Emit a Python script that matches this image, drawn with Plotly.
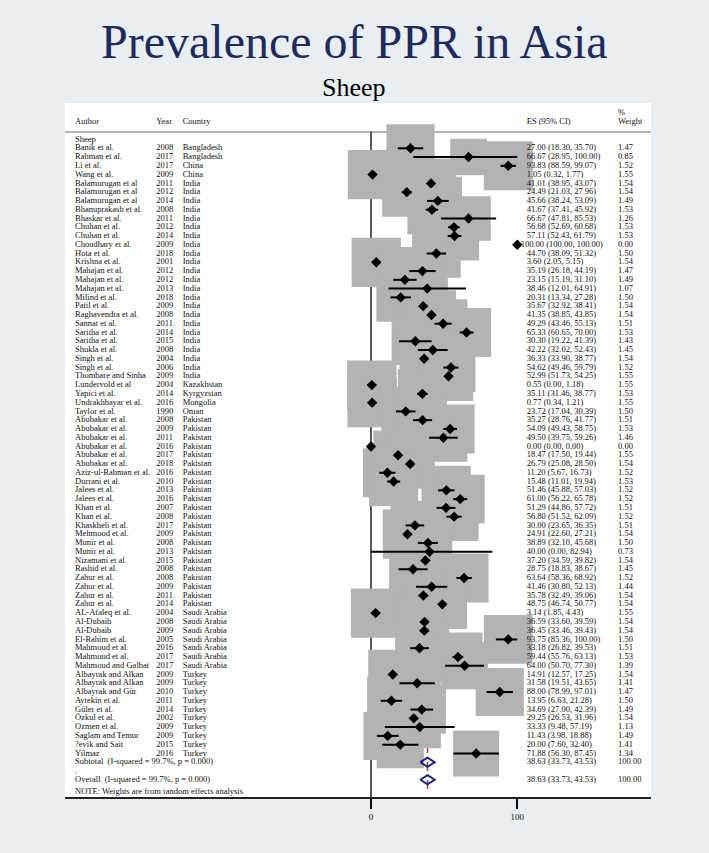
import numpy as np
import plotly.graph_objects as go

# ---------------- data ----------------
authors = ["Banik et al.", "Rahman et al.", "Li et al.", "Wang et al.", "Balamurugan et al",
           "Balamurugan et al", "Balamurugan et al", "Bhanuprakash et al.", "Bhaskar et al.",
           "Chuhan et al.", "Chuhan et al.", "Choudhary et al.", "Hota et al.", "Krishna et al.",
           "Mahajan et al.", "Mahajan et al.", "Mahajan et al.", "Milind et al.", "Patil et al.",
           "Raghavendra et al.", "Sannat et al.", "Saritha et al.", "Saritha et al.", "Shukla et al.",
           "Singh et al.", "Singh et al.", "Thombare and Sinha", "Lundervold et al", "Yapici et al.",
           "Undrakhbayar et al.", "Taylor et al.", "Abubakar et al.", "Abubakar et al.",
           "Abubakar et al.", "Abubakar et al.", "Abubakar et al.", "Abubakar et al.",
           "Aziz-ul-Rahman et al.", "Durrani et al.", "Jalees et al.", "Jalees et al.",
           "Khan et al.", "Khan et al.", "Khaskheli et al.", "Mehmood et al.", "Munir et al.",
           "Munir et al.", "Nizamani et al.", "Rashid et al.", "Zahur et al.", "Zahur et al.",
           "Zahur et al.", "Zahur et al.", "AL-Afaleq et al.", "Al-Dubaib", "Al-Dubaib",
           "El-Rahim et al.", "Mahmoud et al.", "Mahmoud et al.", "Mahmoud and Galbat",
           "Albayrak and Alkan", "Albayrak and Alkan", "Albayrak and Gür", "Aytekin et al.",
           "Güler et al.", "Özkul et al.", "Ozmen et al.", "Saglam and Temur", "?evik and Sait",
           "Yilmaz"]
years = [2008, 2017, 2017, 2009, 2011, 2012, 2014, 2008, 2011, 2012, 2014, 2009, 2018, 2001,
         2012, 2012, 2013, 2018, 2009, 2008, 2011, 2014, 2015, 2008, 2004, 2006, 2009, 2004,
         2014, 2016, 1990, 2008, 2009, 2011, 2016, 2017, 2018, 2016, 2010, 2013, 2016, 2007,
         2008, 2017, 2009, 2008, 2013, 2015, 2008, 2008, 2009, 2011, 2014, 2004, 2008, 2009,
         2005, 2016, 2017, 2017, 2009, 2009, 2010, 2011, 2014, 2002, 2009, 2009, 2015, 2016]
countries = (["Bangladesh"] * 2 + ["China"] * 2 + ["India"] * 23 + ["Kazakhstan", "Kyrgyzstan",
             "Mongolia", "Oman"] + ["Pakistan"] * 22 + ["Saudi Arabia"] * 7 + ["Turkey"] * 10)
es = [27.00, 66.67, 93.83, 1.05, 41.01, 24.49, 45.66, 41.67, 66.67, 56.68, 57.11, 100.00, 44.70,
      3.60, 35.19, 23.15, 38.46, 20.31, 35.67, 41.35, 49.29, 65.33, 30.30, 42.22, 36.33, 54.62,
      52.99, 0.55, 35.11, 0.77, 23.72, 35.27, 54.09, 49.50, 0.00, 18.47, 26.79, 11.20, 15.48,
      51.46, 61.00, 51.29, 56.80, 30.00, 24.91, 38.89, 40.00, 37.20, 28.75, 63.64, 41.46, 35.78,
      48.75, 3.14, 36.59, 36.45, 93.75, 33.18, 59.44, 64.00, 14.91, 31.58, 88.00, 13.95, 34.69,
      29.25, 33.33, 11.43, 20.00, 71.88]
ci_lo = [18.30, 28.95, 88.59, 0.32, 38.95, 21.03, 38.24, 37.41, 47.81, 52.69, 52.43, 100.00, 38.09,
         2.05, 26.18, 15.19, 12.01, 13.34, 32.92, 38.85, 43.46, 60.65, 19.22, 32.02, 33.90, 49.46,
         51.73, 0.00, 31.46, 0.34, 17.04, 28.76, 49.43, 39.75, 0.00, 17.50, 25.08, 5.67, 11.01,
         45.88, 56.22, 44.86, 51.52, 23.65, 22.60, 32.10, 0.00, 34.59, 18.83, 58.36, 30.80, 32.49,
         46.74, 1.85, 33.60, 33.46, 85.36, 26.82, 55.76, 50.70, 12.57, 19.51, 78.99, 6.63, 27.00,
         26.53, 9.48, 3.98, 7.60, 56.30]
ci_hi = [35.70, 100.00, 99.07, 1.77, 43.07, 27.96, 53.09, 45.92, 85.53, 60.68, 61.79, 100.00, 51.32,
         5.15, 44.19, 31.10, 64.91, 27.28, 38.41, 43.85, 55.13, 70.00, 41.39, 52.43, 38.77, 59.79,
         54.25, 1.18, 38.77, 1.21, 30.39, 41.77, 58.75, 59.26, 0.00, 19.44, 28.50, 16.73, 19.94,
         57.03, 65.78, 57.72, 62.09, 36.35, 27.21, 45.68, 82.94, 39.82, 38.67, 68.92, 52.13, 39.06,
         50.77, 4.43, 39.59, 39.43, 100.00, 39.53, 63.13, 77.30, 17.25, 43.65, 97.01, 21.28, 42.39,
         31.96, 57.19, 18.88, 32.40, 87.45]
weights = [1.47, 0.85, 1.52, 1.55, 1.54, 1.54, 1.49, 1.53, 1.26, 1.53, 1.53, 0.00, 1.50, 1.54,
           1.47, 1.49, 1.07, 1.50, 1.54, 1.54, 1.51, 1.53, 1.43, 1.45, 1.54, 1.52, 1.55, 1.55,
           1.53, 1.55, 1.50, 1.51, 1.53, 1.46, 0.00, 1.55, 1.54, 1.52, 1.53, 1.52, 1.52, 1.51,
           1.52, 1.51, 1.54, 1.50, 0.73, 1.54, 1.45, 1.52, 1.44, 1.54, 1.54, 1.55, 1.54, 1.54,
           1.50, 1.51, 1.53, 1.39, 1.54, 1.41, 1.47, 1.50, 1.49, 1.54, 1.13, 1.49, 1.41, 1.34]
pooled = [38.63, 33.73, 43.53]
pooled_weight = 100.00
het_text = "(I-squared = 99.7%, p = 0.000)"
x_ticks = [0, 100]

# ---------------- geometry ----------------
W, H = 709, 853
L, R, T, B = 65, 651, 103, 797          # white panel / plot area in px
ZERO_PX, HUND_PX = 371.0, 517.3
PPU = (HUND_PX - ZERO_PX) / 100.0       # px per unit
ROW0_PX, ROW_PX = 148.3, 8.77
BG = "#e8eef2"


def px2x(px):
    return (px - ZERO_PX) / PPU


def py2y(py):
    return (py - ROW0_PX) / ROW_PX


n = len(authors)
rows = list(range(n))
sub_row, dot_row, ov_row = n, n + 1, n + 2
note_row = py2y(791.5)

SERIF = "Liberation Serif"
FS = 8.5
TXT_SHIFT = -1.0   # compensate text offset of 'middle right'

fig = go.Figure()

shapes = []
# header rule
shapes.append(dict(type="line", xref="paper", yref="y", x0=0, x1=1, y0=py2y(132), y1=py2y(132),
                   line=dict(color="#9a9a9a", width=1.5), layer="below"))
# null line
shapes.append(dict(type="line", x0=0, x1=0, y0=py2y(132), y1=py2y(B),
                   line=dict(color="black", width=1.3), layer="below"))
# overall line
shapes.append(dict(type="line", x0=pooled[0], x1=pooled[0], y0=py2y(132), y1=py2y(B),
                   line=dict(color="#b03a3a", width=1.5, dash="dash"), layer="below"))
# weight boxes
K = 39.7
for i in rows:
    w = weights[i]
    if w <= 0:
        continue
    side = K * np.sqrt(w)
    hx = side / 2 / PPU
    hy = side / 2 / ROW_PX
    shapes.append(dict(type="rect", x0=es[i] - hx, x1=es[i] + hx, y0=i - hy, y1=i + hy,
                       fillcolor="#b3b3b3", line=dict(width=0), layer="below"))

# CI lines
cx, cy = [], []
for i in rows:
    cx += [ci_lo[i], ci_hi[i], None]
    cy += [i, i, None]
fig.add_trace(go.Scatter(x=cx, y=cy, mode="lines", line=dict(color="black", width=2),
                         hoverinfo="skip", showlegend=False))
# point estimates
fig.add_trace(go.Scatter(x=es, y=rows, mode="markers",
                         marker=dict(symbol="diamond", size=8, color="black"),
                         showlegend=False))
# pooled diamonds
for r in (sub_row, ov_row):
    fig.add_trace(go.Scatter(x=[pooled[1], pooled[0], pooled[2], pooled[0], pooled[1]],
                             y=[r, r - 0.52, r, r + 0.52, r], mode="lines",
                             line=dict(color="#1a237e", width=2), showlegend=False))


def text_col(xpx, ys, texts, size=FS):
    fig.add_trace(go.Scatter(x=[px2x(xpx + TXT_SHIFT)] * len(ys), y=ys, text=texts, mode="text",
                             textposition="middle right",
                             textfont=dict(family=SERIF, size=size, color="#111111"),
                             hoverinfo="skip", showlegend=False))


AUTH_PX, YEAR_PX, CTRY_PX, ES_PX, WT_PX = 76, 157.3, 183.7, 527.7, 619
hdr_y = py2y(122.3)

text_col(AUTH_PX, [hdr_y, -1] + rows + [sub_row, dot_row, ov_row, note_row],
         ["Author", "Sheep"] + authors + ["Subtotal  " + het_text, ".", "Overall  " + het_text,
                                          "NOTE: Weights are from random effects analysis"])
text_col(YEAR_PX, [hdr_y] + rows, ["Year"] + [str(y) for y in years])
text_col(CTRY_PX, [hdr_y] + rows, ["Country"] + countries)

es_txt = [f"{e:.2f} ({a:.2f}, {b:.2f})" for e, a, b in zip(es, ci_lo, ci_hi)]
pooled_txt = f"{pooled[0]:.2f} ({pooled[1]:.2f}, {pooled[2]:.2f})"
es_rows_norm = [i for i in rows if es[i] < 100]
es_rows_big = [i for i in rows if es[i] >= 100]
text_col(ES_PX, [hdr_y] + es_rows_norm + [sub_row, ov_row],
         ["ES (95% CI)"] + [es_txt[i] for i in es_rows_norm] + [pooled_txt, pooled_txt])
if es_rows_big:
    text_col(ES_PX - 6, es_rows_big, [es_txt[i] for i in es_rows_big])
text_col(WT_PX, [py2y(112.7), hdr_y] + rows + [sub_row, ov_row],
         ["%", "Weight"] + [f"{w:.2f}" for w in weights] + [f"{pooled_weight:.2f}"] * 2)

annotations = [
    dict(text="Prevalence of PPR in Asia", xref="paper", yref="paper", x=(354 - L) / (R - L),
         y=1 + (T - 42) / (B - T), xanchor="center", yanchor="middle", showarrow=False,
         font=dict(family=SERIF, size=48, color="#1f2b5c")),
    dict(text="Sheep", xref="paper", yref="paper", x=(354 - L) / (R - L),
         y=1 + (T - 88) / (B - T), xanchor="center", yanchor="middle", showarrow=False,
         font=dict(family=SERIF, size=26, color="black")),
]

fig.update_layout(
    width=W, height=H,
    margin=dict(l=L, r=W - R, t=T, b=H - B, pad=0),
    paper_bgcolor=BG, plot_bgcolor="white",
    shapes=shapes, annotations=annotations, showlegend=False,
    xaxis=dict(range=[px2x(L), px2x(R)], showgrid=False, zeroline=False,
               showline=True, linecolor="#222222", linewidth=2,
               tickmode="array", tickvals=x_ticks, ticktext=[str(t) for t in x_ticks],
               ticks="outside", ticklen=10, tickwidth=1.8, tickcolor="#111111",
               tickfont=dict(family=SERIF, size=9, color="#111111"), fixedrange=True),
    yaxis=dict(range=[py2y(B), py2y(T)], showgrid=False, zeroline=False, showline=False,
               showticklabels=False, ticks="", fixedrange=True),
)

fig.write_html("out.html", config={"displayModeBar": False},
               post_script="document.body.style.margin='0';document.body.style.padding='0';"
                           "document.body.style.overflow='hidden';"
                           "document.body.style.background='" + BG + "';")
